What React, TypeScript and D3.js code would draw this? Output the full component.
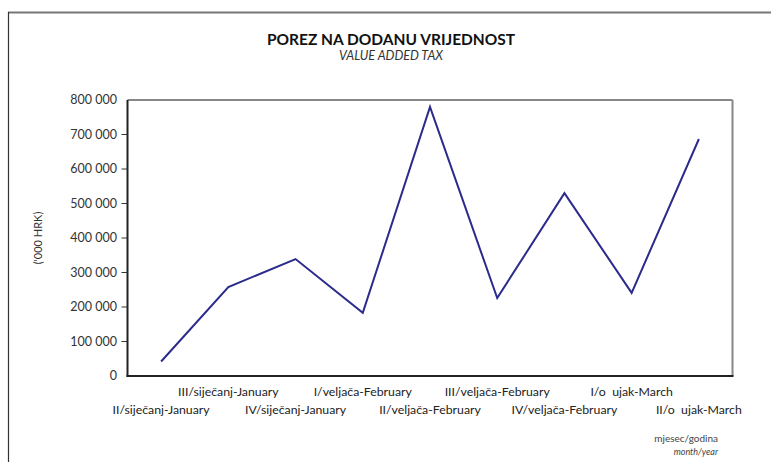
import React from "react";
import * as d3 from "d3";

const categories = [
  "II/siječanj-January",
  "III/siječanj-January",
  "IV/siječanj-January",
  "I/veljača-February",
  "II/veljača-February",
  "III/veljača-February",
  "IV/veljača-February",
  "I/o  ujak-March",
  "II/o  ujak-March",
];
const values = [42000, 258000, 339000, 183000, 780000, 226000, 530000, 241000, 687000];
const yTicks = [0, 100000, 200000, 300000, 400000, 500000, 600000, 700000, 800000];

const W = 771;
const H = 462;
const M = { left: 127.5, right: 732.5, top: 100, bottom: 376 };
const FONT = "Lato, 'Open Sans', sans-serif";

export default function App() {
  const x = d3
    .scaleBand<string>()
    .domain(categories)
    .range([M.left, M.right])
    .padding(0);
  const y = d3.scaleLinear().domain([0, 800000]).range([M.bottom, M.top]);
  const fmt = (v: number) => d3.format(",")(v).replace(/,/g, " ");
  const line = d3
    .line<number>()
    .x((_, i) => (x(categories[i]) as number) + x.bandwidth() / 2)
    .y((d) => y(d));

  return (
    <div style={{ position: "absolute", left: 0, top: 0 }}>
      <svg width={W} height={H} style={{ display: "block" }} fontFamily={FONT}>
        <rect x={0} y={0} width={W} height={H} fill="#fff" />
        {/* outer frame */}
        <line x1={8} y1={12.5} x2={W} y2={12.5} stroke="#777" strokeWidth={2} />
        <line x1={8.5} y1={12} x2={8.5} y2={H} stroke="#333" strokeWidth={1.2} />

        {/* titles */}
        <text x={391} y={45} textAnchor="middle" fontSize={15.5} fontWeight="bold" fill="#111">
          POREZ NA DODANU VRIJEDNOST
        </text>
        <text x={391} y={60} textAnchor="middle" fontSize={12.5} fontStyle="italic" fill="#333">
          VALUE ADDED TAX
        </text>

        {/* plot frame */}
        <line x1={M.left} y1={M.top} x2={M.right} y2={M.top} stroke="#888" strokeWidth={2} />
        <line x1={M.right} y1={M.top} x2={M.right} y2={M.bottom} stroke="#888" strokeWidth={2} />
        <line x1={M.left} y1={M.top} x2={M.left} y2={M.bottom + 1} stroke="#222" strokeWidth={2} />
        <line x1={M.left - 1} y1={M.bottom} x2={M.right + 1} y2={M.bottom} stroke="#222" strokeWidth={2} />

        {/* y ticks */}
        {yTicks.map((t) => (
          <g key={t}>
            {t > 0 && t < 800000 && (
              <line x1={M.left - 6} x2={M.left} y1={y(t)} y2={y(t)} stroke="#333" strokeWidth={1} />
            )}
            <text x={117} y={y(t) + 4} textAnchor="end" fontSize={12.5} fill="#333">
              {fmt(t)}
            </text>
          </g>
        ))}
        <text
          transform={`translate(42,${(M.top + M.bottom) / 2}) rotate(-90)`}
          textAnchor="middle"
          fontSize={11}
          fill="#333"
        >
          ('000 HRK)
        </text>

        {/* x labels */}
        {categories.map((c, i) => (
          <text
            key={c}
            x={(x(c) as number) + x.bandwidth() / 2}
            y={i % 2 === 0 ? 414 : 396}
            textAnchor="middle"
            fontSize={12.3}
            fill="#222"
            style={{ whiteSpace: "pre" }}
          >
            {c}
          </text>
        ))}

        {/* line */}
        <path d={line(values) || ""} fill="none" stroke="#2b2b8c" strokeWidth={2} strokeLinejoin="miter" />

        {/* axis caption */}
        <text x={718} y={442} textAnchor="end" fontSize={10} fill="#444">
          mjesec/godina
        </text>
        <text x={718} y={455} textAnchor="end" fontSize={9} fontStyle="italic" fill="#444">
          month/year
        </text>
      </svg>
    </div>
  );
}
